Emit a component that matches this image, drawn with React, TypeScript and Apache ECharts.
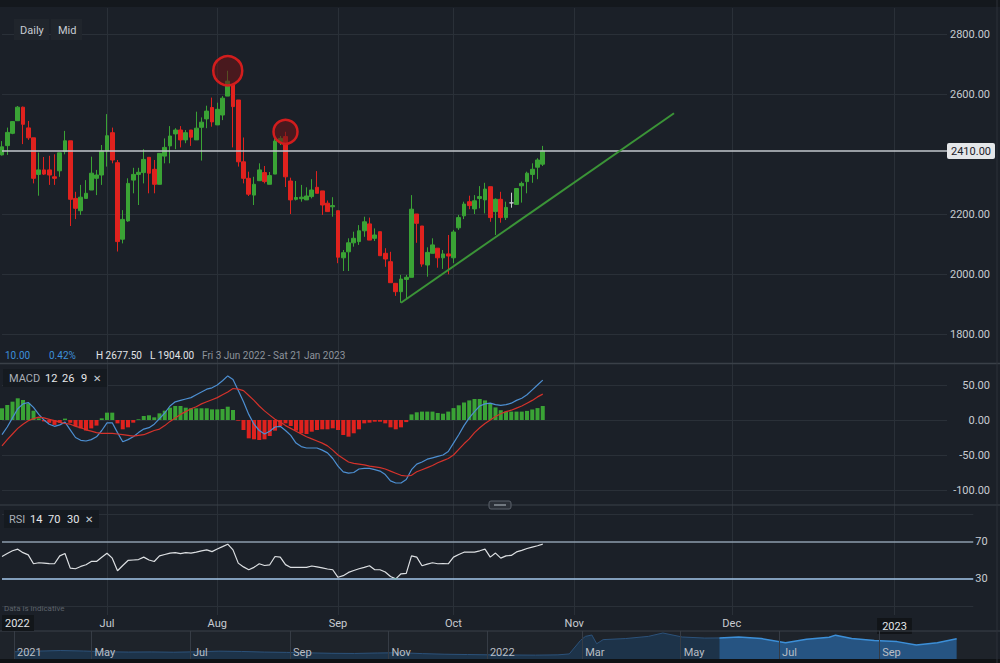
import React, { useEffect, useRef } from 'react';
import * as echarts from 'echarts';

// ---------- DATA ----------
// [open, close, low, high] — daily candles from Fri 3 Jun 2022 (trading days)
const candles: number[][] = [
  [2397, 2424, 2395, 2443], [2428, 2472, 2397, 2488], [2469, 2508, 2466, 2510], [2511, 2556, 2510, 2560],
  [2556, 2499, 2433, 2558], [2487, 2454, 2447, 2510], [2454, 2319, 2302, 2454], [2332, 2347, 2261, 2405],
  [2347, 2333, 2330, 2390], [2347, 2330, 2297, 2394], [2324, 2319, 2297, 2399], [2344, 2404, 2324, 2404],
  [2408, 2444, 2399, 2477], [2444, 2249, 2160, 2444], [2252, 2219, 2183, 2274], [2211, 2256, 2197, 2297],
  [2252, 2269, 2252, 2313], [2280, 2336, 2280, 2391], [2319, 2330, 2263, 2347], [2330, 2410, 2297, 2430],
  [2410, 2461, 2358, 2533], [2471, 2380, 2369, 2488], [2371, 2108, 2075, 2380], [2116, 2182, 2102, 2213],
  [2177, 2302, 2174, 2319], [2313, 2332, 2269, 2354], [2332, 2339, 2230, 2354], [2338, 2382, 2302, 2416],
  [2389, 2336, 2269, 2389], [2349, 2299, 2269, 2380], [2299, 2402, 2299, 2402], [2393, 2422, 2369, 2452],
  [2427, 2460, 2369, 2493], [2467, 2480, 2416, 2486], [2480, 2447, 2422, 2493], [2447, 2471, 2436, 2480],
  [2480, 2456, 2427, 2480], [2447, 2486, 2447, 2541], [2489, 2506, 2378, 2522], [2517, 2543, 2486, 2561],
  [2555, 2507, 2491, 2588], [2497, 2549, 2497, 2571], [2530, 2586, 2513, 2593], [2593, 2643, 2593, 2677.5],
  [2630, 2558, 2422, 2633], [2580, 2374, 2358, 2580], [2374, 2319, 2302, 2455], [2319, 2266, 2260, 2341],
  [2263, 2299, 2230, 2324], [2311, 2347, 2311, 2369], [2338, 2308, 2302, 2360], [2299, 2328, 2299, 2340],
  [2333, 2443, 2333, 2452], [2441, 2452, 2430, 2460], [2458, 2324, 2290, 2474], [2310, 2247, 2200, 2321],
  [2249, 2255, 2245, 2310], [2251, 2256, 2241, 2297], [2247, 2260, 2247, 2289], [2258, 2280, 2252, 2316],
  [2289, 2269, 2269, 2343], [2277, 2230, 2197, 2277], [2236, 2208, 2208, 2245], [2224, 2228, 2191, 2256],
  [2211, 2056, 2036, 2211], [2054, 2071, 2010, 2080], [2074, 2104, 2010, 2119], [2104, 2119, 2091, 2141],
  [2108, 2144, 2097, 2163], [2144, 2174, 2124, 2191], [2167, 2113, 2113, 2188], [2119, 2130, 2110, 2152],
  [2141, 2061, 2061, 2141], [2069, 2050, 2024, 2086], [2041, 1971, 1971, 2074], [1969, 1941, 1927, 1969],
  [1941, 1983, 1904, 1997], [1982, 1989, 1916, 1997], [1989, 2216, 1989, 2263], [2200, 2169, 2104, 2200],
  [2160, 2033, 2024, 2160], [2030, 2072, 1991, 2089], [2069, 2097, 2069, 2119], [2086, 2054, 2021, 2086],
  [2054, 2067, 2017, 2080], [2067, 2060, 1999, 2130], [2054, 2140, 2036, 2147], [2154, 2188, 2147, 2197],
  [2194, 2233, 2183, 2241], [2241, 2228, 2216, 2261], [2217, 2244, 2200, 2263], [2252, 2258, 2219, 2293],
  [2247, 2283, 2202, 2304], [2291, 2188, 2174, 2291], [2208, 2249, 2130, 2252], [2249, 2188, 2171, 2274],
  [2188, 2222, 2180, 2241], [2237, 2237, 2221, 2271], [2232, 2285, 2232, 2285], [2294, 2302, 2238, 2308],
  [2308, 2336, 2269, 2341], [2332, 2349, 2304, 2369], [2356, 2380, 2316, 2386], [2366, 2410, 2360, 2427],
];

const macdLine: number[] = [
  -21, -10, 3, 16, 23, 25, 18, 8, 0, -6,
  -9, -7, -3, -14, -25, -29, -30, -28, -24, -15,
  -4, -4, -18, -31, -28, -24, -18, -13, -11, -6,
  2, 10, 20, 26, 28, 30, 32, 36, 40, 44,
  46, 50, 56, 63, 58, 42, 26, 8, -6, -15,
  -20, -16, -10, -9, -15, -22, -33, -38, -40, -40,
  -40, -43, -47, -55, -66, -74, -76, -75, -70, -69,
  -69, -71, -73, -78, -87, -90, -90, -85, -71, -63,
  -60, -56, -54, -52, -50, -45, -33, -21, -8, 3,
  12, 20, 23, 24, 22, 21, 22, 24, 28, 31,
  36, 43, 50, 57,
];

const signalLine: number[] = [
  -37, -28, -20, -12, -6, -1, 2, 4, 3, 1,
  -1, -3, -5, -6, -9, -11, -14, -16, -18, -19,
  -19, -19, -20, -21, -22, -23, -22, -21, -18, -15,
  -13, -8, -2, 3, 8, 12, 16, 19, 23, 26,
  29, 32, 36, 40, 45, 44, 42, 35, 28, 20,
  13, 7, 1, -3, -8, -12, -16, -20, -24, -27,
  -30, -33, -37, -43, -50, -55, -60, -62, -63, -64,
  -66, -67, -68, -70, -73, -76, -79, -80, -79, -74,
  -71, -68, -65, -61, -58, -55, -50, -42, -34, -27,
  -18, -11, -5, 0, 5, 9, 12, 14, 17, 20,
  24, 28, 33, 37,
];

const histogram: number[] = [
  16.7, 21.4, 26.2, 31, 28.6, 23.8, 13.3, 2.4,
  -2, -4, -7, -4, 2, -4, -9, -12, -15, -12, -8,
  2.4, 10.5, 10.5,
  -4.8, -13.3, -10.5, -3.8,
  1, 5.7, 6.7, 3.8, 9.5, 13.3, 17.6, 20, 20, 17.6, 16.7, 16.7, 16.7, 16.7, 15.2, 15.2, 15.7, 19, 14.3,
  -1, -14.3, -26.2, -27.6, -28.6, -27.6, -22.9, -15.2, -8.6, -4.8, -8.6, -15.2, -19, -20, -16.7, -14.3,
  -13.3, -13.3, -11.9, -14.3, -21.4, -23.8, -19, -13.3, -4.8, -3.8, -2.4, -2.4, -4.8, -10.5, -13.3, -10.5,
  -3, 8, 11, 12, 12, 12, 10, 9, 12, 17, 21, 25, 28, 30, 30, 28, 24, 18, 14, 12, 12, 12, 12, 13, 15, 17, 20,
];

const rsiValues: number[] = [
  53.8, 57, 60, 61.8, 58, 55.6, 45.9, 47, 46.5, 46,
  45.9, 54.5, 57, 41.2, 40.5, 43, 44.8, 48.4, 48.4, 53,
  57.4, 52, 38.3, 44, 49.5, 50, 50.5, 53.1, 50, 48.4,
  54.5, 56, 57.5, 58.1, 57, 58, 57.5, 58.5, 60, 61,
  59.1, 62, 64.5, 67.2, 61, 46.6, 42.5, 39.4, 42, 45.9,
  44, 44.8, 53.8, 53.1, 45, 41.9, 42, 42, 41.9, 43.5,
  42.5, 41.5, 40.2, 39.4, 31.2, 33, 36.5, 38.6, 40.5, 42,
  43.7, 39.4, 39.4, 37, 32, 29.5, 35, 35.5, 54.5, 53.1,
  43.7, 45.5, 47, 45.9, 46, 45.9, 53.1, 56, 58.5, 58.5,
  58.5, 60, 61.8, 53.1, 57.5, 52, 54.5, 55, 58.8, 60.5,
  62.5, 64, 65.5, 67.2,
];

// long-history navigator
const navDates: string[] = [
  '2021-03-14', '2021-03-28', '2021-04-12', '2021-04-26', '2021-05-10', '2021-05-24', '2021-06-07',
  '2021-06-21', '2021-07-05', '2021-07-19', '2021-08-02', '2021-08-16', '2021-08-30', '2021-09-13',
  '2021-09-27', '2021-10-11', '2021-10-25', '2021-11-08', '2021-11-22', '2021-12-06', '2021-12-20',
  '2022-01-03', '2022-01-17', '2022-01-31', '2022-02-14', '2022-02-21', '2022-02-28', '2022-03-03',
  '2022-03-07', '2022-03-10', '2022-03-14', '2022-03-28', '2022-04-11', '2022-04-20', '2022-05-02',
  '2022-05-16', '2022-05-25', '2022-06-06', '2022-06-20', '2022-07-05', '2022-07-18', '2022-08-01',
  '2022-08-05', '2022-08-15', '2022-08-29', '2022-09-12', '2022-09-24', '2022-10-07', '2022-10-19',
];
const navValues: number[] = [
  1560, 1600, 1640, 1610, 1560, 1540, 1550,
  1530, 1560, 1600, 1580, 1540, 1520, 1490,
  1460, 1450, 1480, 1500, 1440, 1400, 1380,
  1360, 1350, 1340, 1360, 1420, 2300, 2560,
  2650, 2080, 2350, 2420, 2560, 2780, 2520,
  2450, 2460, 2520, 2420, 2150, 2380, 2500,
  2640, 2420, 2300, 2220, 2000, 2150, 2410,
];
const navSelectionStart = '2022-05-25';

const priceRange = { min: 1800, max: 2800, step: 200 };
const macdRange = { min: -100, max: 50, step: 50 };
const rsiLevels = [70, 30];
const circledCandles = [43, 54];
const trendStart = { index: 76, price: 1904 };
const trendEnd = { index: 128, price: 2536 };
const infoLine = { change: '10.00', pct: '0.42%', high: 'H 2677.50', low: 'L 1904.00', range: 'Fri 3 Jun 2022 - Sat 21 Jan 2023' };
const monthNames = ['Jan', 'Feb', 'Mar', 'Apr', 'May', 'Jun', 'Jul', 'Aug', 'Sep', 'Oct', 'Nov', 'Dec'];

// ---------- STYLE ----------
const BG = '#1b2028';
const GRID = '#2a3038';
const UP = '#3aa335';
const DOWN = '#e0221e';
const TXT = '#c8ccd2';
const FONT = 'Roboto, "DejaVu Sans", sans-serif';
const circleSizes = [29, 24];
const STEP = 5.25;

function pad(n: number) { return n < 10 ? '0' + n : '' + n; }
function fmt(d: Date) { return d.getUTCFullYear() + '-' + pad(d.getUTCMonth() + 1) + '-' + pad(d.getUTCDate()); }

function buildMainCats(n: number): string[] {
  const out: string[] = [];
  const d = new Date(Date.UTC(2022, 5, 3));
  while (out.length < n) {
    const wd = d.getUTCDay();
    if (out.length < candles.length) {
      if (wd !== 0 && wd !== 6) out.push(fmt(d));
    } else out.push(fmt(d));
    d.setUTCDate(d.getUTCDate() + 1);
  }
  return out;
}
function buildDays(start: string, n: number): string[] {
  const [y, m, dd] = start.split('-').map(Number);
  const d = new Date(Date.UTC(y, m - 1, dd));
  const out: string[] = [];
  for (let i = 0; i < n; i++) { out.push(fmt(d)); d.setUTCDate(d.getUTCDate() + 1); }
  return out;
}
const month = (s: string) => Number(s.slice(5, 7)) - 1;

export default function App() {
  const ref = useRef<HTMLDivElement>(null);
  useEffect(() => {
    if (!ref.current) return;
    const chart = echarts.init(ref.current, undefined, { renderer: 'svg' });

    const mainCats = buildMainCats(181);
    const rsiCats = buildMainCats(186);
    const navCats = buildDays(navDates[0], 610);
    const navLast = navDates[navDates.length - 1];

    const isMonthStart = (cats: string[]) => (i: number) => i > 0 && month(cats[i]) !== month(cats[i - 1]);
    const mainMonth = isMonthStart(mainCats);
    const monthLabel = (v: string) => {
      const m = month(v);
      return m === 0 ? '{yr|' + v.slice(0, 4) + '}' : monthNames[m];
    };
    const navMark = (i: number) => i === 0 || (i > 0 && navCats[i] <= navLast && month(navCats[i]) !== month(navCats[i - 1]) && month(navCats[i]) % 2 === 0);
    const navLabel = (v: string, i: number) => {
      if (i === 0) return v.slice(0, 4);
      const m = month(v);
      return m === 0 ? v.slice(0, 4) : monthNames[m];
    };

    const lastClose = candles[candles.length - 1][1];
    const navPairs = navDates.map((d, i) => [d, navValues[i]]);
    const selIdx = navDates.indexOf(navSelectionStart);
    const navDark = navPairs.slice(0, selIdx + 1);
    const navBright = navPairs.slice(selIdx);

    const gridW = (n: number) => (n - 1) * STEP;
    const yLabel = {
      color: TXT, fontSize: 11, align: 'right', margin: 43, fontFamily: FONT,
    };

    const txt = (text: string, x: number, y: number, fill: string, size = 11, extra: any = {}) => ({
      type: 'text', z: 100, style: { text, x, y, fill, font: `${size}px ${FONT}`, verticalAlign: 'middle', textVerticalAlign: 'middle', ...extra },
    });

    const option: any = {
      animation: false,
      backgroundColor: BG,
      textStyle: { fontFamily: FONT },
      grid: [
        { left: 2, top: 8, width: gridW(181), bottom: 48 },
        { left: 2, top: 34, width: gridW(181), height: 300 },
        { left: 2, top: 385, width: gridW(181), height: 105 },
        { left: 2, top: 514, width: gridW(186), height: 92 },
        { left: 14, top: 631, width: 983, height: 28 },
      ],
      xAxis: [
        {
          type: 'category', gridIndex: 0, data: mainCats, boundaryGap: false,
          axisLine: { show: false }, axisTick: { show: false },
          axisLabel: {
            interval: (i: number) => mainMonth(i), formatter: monthLabel, color: TXT, fontSize: 11, margin: 3,
            rich: { yr: { backgroundColor: '#111418', color: '#e2e5e8', padding: [3, 5, 2, 5], fontSize: 11 } },
          },
          splitLine: { show: true, interval: (i: number) => mainMonth(i), lineStyle: { color: GRID, width: 1 } },
        },
        { type: 'category', gridIndex: 1, data: mainCats, boundaryGap: false, show: false },
        { type: 'category', gridIndex: 2, data: mainCats, boundaryGap: false, show: false },
        { type: 'category', gridIndex: 3, data: rsiCats, boundaryGap: false, show: false },
        {
          type: 'category', gridIndex: 4, data: navCats, boundaryGap: false,
          axisLine: { show: false }, axisTick: { show: false },
          axisLabel: {
            inside: false, align: 'left', verticalAlign: 'middle', margin: -7, padding: [0, 0, 0, 3],
            color: '#b9bec5', fontSize: 11,
            interval: (i: number) => navMark(i), formatter: navLabel,
          },
          splitLine: { show: true, interval: (i: number) => navMark(i), lineStyle: { color: '#363c45', width: 1 } },
          z: 5,
        },
      ],
      yAxis: [
        { type: 'value', gridIndex: 0, show: false, min: 0, max: 1 },
        {
          type: 'value', gridIndex: 1, position: 'right', min: priceRange.min, max: priceRange.max, interval: priceRange.step,
          axisLine: { show: false }, axisTick: { show: false },
          axisLabel: { ...yLabel, formatter: (v: number) => (Math.abs(v - lastClose) < 30 ? '' : v.toFixed(2)) },
          splitLine: { lineStyle: { color: [GRID, GRID, GRID, 'rgba(0,0,0,0)', GRID, GRID] } },
        },
        {
          type: 'value', gridIndex: 2, position: 'right', min: macdRange.min, max: macdRange.max, interval: macdRange.step,
          axisLine: { show: false }, axisTick: { show: false },
          axisLabel: { ...yLabel, formatter: (v: number) => v.toFixed(2) },
          splitLine: { lineStyle: { color: GRID } },
        },
        {
          type: 'value', gridIndex: 3, min: 0, max: 100, interval: 100,
          axisLine: { show: false }, axisTick: { show: false }, axisLabel: { show: false },
          splitLine: { lineStyle: { color: GRID } },
        },
        { type: 'value', gridIndex: 4, min: 1090, max: 2910, show: false },
      ],
      visualMap: [{
        show: false, type: 'piecewise', seriesIndex: 4, dimension: 1,
        pieces: [{ gte: 0, lte: 30, color: UP }, { gt: 30, lte: 100, color: '#dcdfe2' }],
      }],
      series: [
        {
          type: 'candlestick', xAxisIndex: 1, yAxisIndex: 1, data: candles, barWidth: 4.2,
          itemStyle: { color: UP, color0: DOWN, borderColor: UP, borderColor0: DOWN, borderColorDoji: '#c9cdd2', borderWidth: 1 },
          markLine: {
            symbol: ['none', 'none'], silent: true,
            data: [
              {
                yAxis: lastClose,
                lineStyle: { color: '#c3c7cc', width: 1.5, type: 'solid' },
                label: {
                  show: true, position: 'end', distance: 0, formatter: lastClose.toFixed(2),
                  backgroundColor: '#e4e6e9', color: '#1b2028', padding: [3, 4, 2, 4], borderRadius: 2, fontSize: 11,
                },
              },
              [
                { coord: [mainCats[trendStart.index], trendStart.price], lineStyle: { color: '#3b9437', width: 2, type: 'solid' }, label: { show: false } },
                { coord: [mainCats[trendEnd.index], trendEnd.price] },
              ],
            ],
          },
          markPoint: {
            symbol: 'circle', silent: true,
            data: circledCandles.map((i, k) => ({ coord: [mainCats[i], candles[i][3]], symbolSize: circleSizes[k] })),
            itemStyle: { color: 'rgba(105,22,24,0.6)', borderColor: '#d21d1d', borderWidth: 2.5 },
            label: { show: false },
          },
        },
        {
          type: 'bar', xAxisIndex: 2, yAxisIndex: 2, data: histogram, barWidth: 4,
          itemStyle: { color: (p: any) => (p.value >= 0 ? UP : DOWN) },
        },
        {
          type: 'line', xAxisIndex: 2, yAxisIndex: 2, data: macdLine, showSymbol: false, clip: false, z: 3,
          lineStyle: { color: '#4d8fd2', width: 1.2 }, itemStyle: { color: '#4d8fd2' },
        },
        {
          type: 'line', xAxisIndex: 2, yAxisIndex: 2, data: signalLine, showSymbol: false, clip: false, z: 3,
          lineStyle: { color: '#d4322b', width: 1.2 }, itemStyle: { color: '#d4322b' },
        },
        {
          type: 'line', xAxisIndex: 3, yAxisIndex: 3, data: rsiValues, showSymbol: false,
          lineStyle: { width: 1.2 },
          markLine: {
            symbol: ['none', 'none'], silent: true,
            label: { position: 'end', distance: 2, color: TXT, fontSize: 11, formatter: '{c}' },
            data: [
              { yAxis: rsiLevels[0], lineStyle: { color: '#8e9cad', width: 1.5, type: 'solid' } },
              { yAxis: rsiLevels[1], lineStyle: { color: '#a6c9ec', width: 1.5, type: 'solid' } },
            ],
          },
        },
        {
          type: 'line', xAxisIndex: 4, yAxisIndex: 4, data: navDark, showSymbol: false,
          lineStyle: { color: '#2c527a', width: 1 }, itemStyle: { color: '#2c527a' },
          areaStyle: { color: '#1d3349', opacity: 1 },
        },
        {
          type: 'line', xAxisIndex: 4, yAxisIndex: 4, data: navBright, showSymbol: false,
          lineStyle: { color: '#3c8fd8', width: 1.5 }, itemStyle: { color: '#3c8fd8' },
          areaStyle: { color: '#265482', opacity: 1 },
        },
      ],
      graphic: [
        { type: 'rect', z: -10, shape: { x: 0, y: 0, width: 1000, height: 7 }, style: { fill: '#14181d' } },
        { type: 'rect', z: -10, shape: { x: 0, y: 631, width: 997, height: 28 }, style: { fill: '#1e232a' } },
        { type: 'rect', z: -10, shape: { x: 0, y: 659, width: 1000, height: 4 }, style: { fill: '#0f1215' } },
        { type: 'line', z: 50, shape: { x1: 0, y1: 363.5, x2: 1000, y2: 363.5 }, style: { stroke: '#3a4048', lineWidth: 1.5 } },
        { type: 'line', z: 50, shape: { x1: 0, y1: 505, x2: 1000, y2: 505 }, style: { stroke: '#3a4048', lineWidth: 1 } },
        { type: 'line', z: 50, shape: { x1: 0, y1: 631, x2: 1000, y2: 631 }, style: { stroke: '#3a4048', lineWidth: 1 } },
        { type: 'line', z: 50, shape: { x1: 997, y1: 0, x2: 997, y2: 663 }, style: { stroke: '#2c3138', lineWidth: 1 } },
        { type: 'rect', z: 60, shape: { x: 489, y: 501, width: 22, height: 8, r: 2 }, style: { fill: '#2b3038', stroke: '#5a606a', lineWidth: 1 } },
        { type: 'line', z: 61, shape: { x1: 494, y1: 505, x2: 506, y2: 505 }, style: { stroke: '#8a9099', lineWidth: 1.5 } },
        // Daily / Mid
        { type: 'rect', z: 90, shape: { x: 14, y: 19, width: 35, height: 21 }, style: { fill: '#20252c' } },
        { type: 'rect', z: 90, shape: { x: 51, y: 19, width: 31, height: 21 }, style: { fill: '#20252c' } },
        txt('Daily', 20, 30, TXT),
        txt('Mid', 58, 30, TXT),
        // info line
        txt(infoLine.change, 5, 355, '#3d8fd9', 10),
        txt(infoLine.pct, 49, 355, '#3d8fd9', 10),
        txt(infoLine.high, 96, 355, '#e2e5e8', 10),
        txt(infoLine.low, 150, 355, '#e2e5e8', 10),
        txt(infoLine.range, 202, 355, '#8d939b', 10),
        // MACD legend
        { type: 'rect', z: 90, shape: { x: 3, y: 369, width: 104, height: 18 }, style: { fill: '#151a20' } },
        txt('MACD', 9, 378, '#a9afb7', 11),
        txt('12', 45, 378, '#e6e8eb', 11),
        txt('26', 62, 378, '#e6e8eb', 11),
        txt('9', 81, 378, '#e6e8eb', 11),
        txt('✕', 93, 378, '#c8ccd2', 10),
        // RSI legend
        { type: 'rect', z: 90, shape: { x: 4, y: 510, width: 95, height: 18 }, style: { fill: '#151a20' } },
        txt('RSI', 9, 519, '#a9afb7', 11),
        txt('14', 30, 519, '#e6e8eb', 11),
        txt('70', 48, 519, '#e6e8eb', 11),
        txt('30', 67, 519, '#e6e8eb', 11),
        txt('✕', 85, 519, '#c8ccd2', 10),
        txt('Data is indicative', 4, 608, '#5d636b', 8),
        { type: 'rect', z: 90, shape: { x: 2, y: 615, width: 32, height: 16 }, style: { fill: '#12161a' } },
        txt('2022', 5, 623, '#e2e5e8', 11),
      ],
    };
    chart.setOption(option);
    return () => chart.dispose();
  }, []);
  return <div ref={ref} style={{ position: 'absolute', left: 0, top: 0, width: 1000, height: 663 }} />;
}
